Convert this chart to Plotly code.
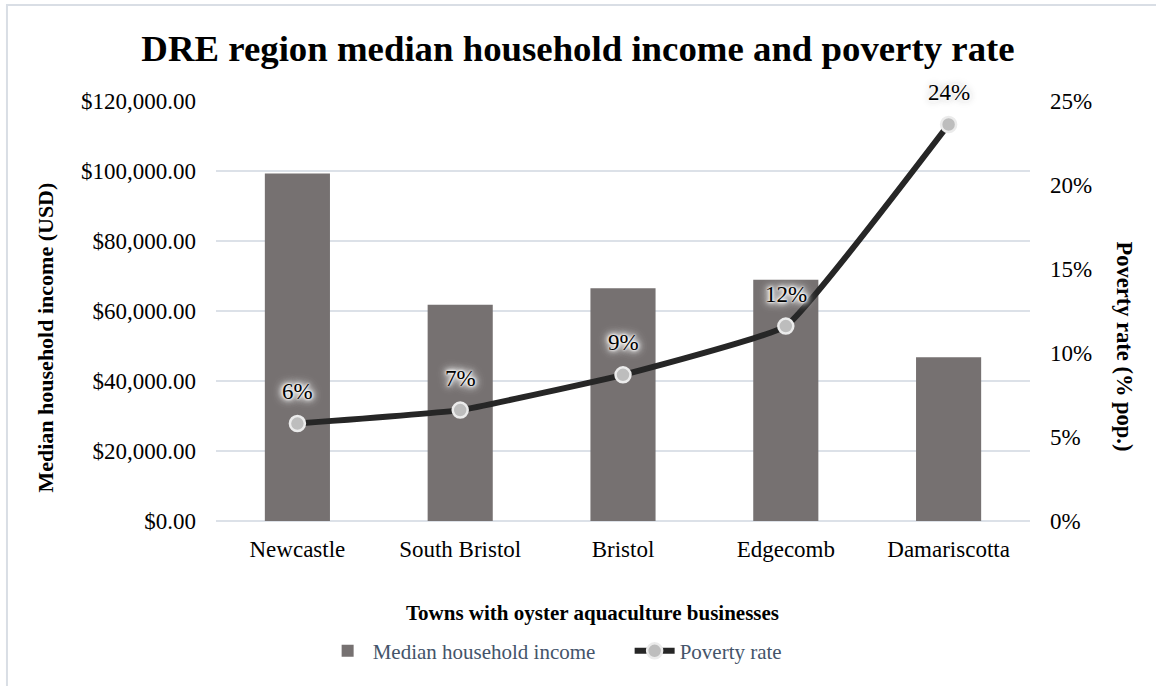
import plotly.graph_objects as go

towns = ["Newcastle", "South Bristol", "Bristol", "Edgecomb", "Damariscotta"]
median_income = [99300, 61800, 66500, 68900, 46800]
poverty_rate = [0.058, 0.066, 0.087, 0.116, 0.236]

FONT = "Liberation Serif, Times New Roman, serif"
GRID = "#DCE1E8"

fig = go.Figure()
fig.add_trace(go.Bar(
    x=towns, y=median_income, name="Median household income",
    marker=dict(color="#767171", line=dict(width=0)),
    yaxis="y",
))
fig.add_trace(go.Scatter(
    x=towns, y=poverty_rate, name="Poverty rate", yaxis="y2",
    mode="lines+markers",
    line=dict(color="#262626", width=6, shape="spline", smoothing=0.3),
    marker=dict(size=15, color="#BDBDBD", line=dict(color="#EBEBEB", width=2.5)),
))

GLOW = ("0 0 2px #ffffff, 0 0 3px #ffffff, 0 0 5px #ffffff, 0 0 6px #f0f0f0, "
        "0 0 8px #e6e6e6, 0 0 10px #dddddd, 0 0 12px #d6d6d6")
for t, v in zip(towns, poverty_rate):
    fig.add_annotation(
        x=t, y=v, xref="x", yref="y2", yshift=32, showarrow=False,
        xanchor="center", yanchor="middle",
        text=f"{v:.0%}",
        font=dict(family=FONT, size=23, color="#000000", shadow=GLOW),
    )

fig.add_annotation(text="<b>Median household income (USD)</b>", xref="paper", yref="paper",
                   x=-0.210, y=0.437, textangle=-90, showarrow=False,
                   xanchor="center", yanchor="middle",
                   font=dict(family=FONT, size=22, color="#000000"))
fig.add_annotation(text="<b>Poverty rate (% pop.)</b>", xref="paper", yref="paper",
                   x=1.1167, y=0.4155, textangle=90, showarrow=False,
                   xanchor="center", yanchor="middle",
                   font=dict(family=FONT, size=22.5, color="#000000"))
fig.add_annotation(text="<b>Towns with oyster aquaculture businesses</b>", xref="paper", yref="paper",
                   x=0.4631, y=-0.219, showarrow=False,
                   xanchor="center", yanchor="middle",
                   font=dict(family=FONT, size=21, color="#000000"))

fig.add_shape(type="rect", xref="paper", yref="paper",
              x0=-0.2568, x1=1.5, y0=-1.0, y1=1.2286,
              line=dict(color="#D9DEE5", width=2), fillcolor="rgba(0,0,0,0)", layer="below")

fig.update_layout(
    width=1156, height=686,
    margin=dict(l=216, r=126, t=101, b=165),
    paper_bgcolor="white", plot_bgcolor="white",
    font=dict(family=FONT, size=23, color="#000000"),
    title=dict(text="<b>DRE region median household income and poverty rate</b>",
               x=0.5, xanchor="center", y=0.93, yanchor="middle",
               font=dict(family=FONT, size=36.8, color="#000000")),
    bargap=0.6,
    showlegend=True,
    legend=dict(orientation="h", x=0.131, xanchor="left", y=-0.31, yanchor="middle",
                font=dict(family=FONT, size=21, color="#44546A"),
                bgcolor="rgba(0,0,0,0)", itemwidth=40,
                entrywidth=252, entrywidthmode="pixels"),
    xaxis=dict(showgrid=False, showline=False, ticks="", ticklabelstandoff=12,
               tickfont=dict(family=FONT, size=23, color="#000000")),
    yaxis=dict(range=[0, 120000], dtick=20000, tickformat="$,.2f",
               showgrid=True, gridcolor=GRID, gridwidth=1.5,
               zeroline=True, zerolinecolor=GRID, zerolinewidth=1.5,
               showline=False, ticks="", ticklabelstandoff=19,
               tickfont=dict(family=FONT, size=23, color="#000000")),
    yaxis2=dict(range=[0, 0.25], dtick=0.05, tickformat=".0%", overlaying="y", side="right",
                showgrid=False, zeroline=False, showline=False, ticks="", ticklabelstandoff=19,
                tickfont=dict(family=FONT, size=23, color="#000000")),
)

fig.write_html("out.html")
